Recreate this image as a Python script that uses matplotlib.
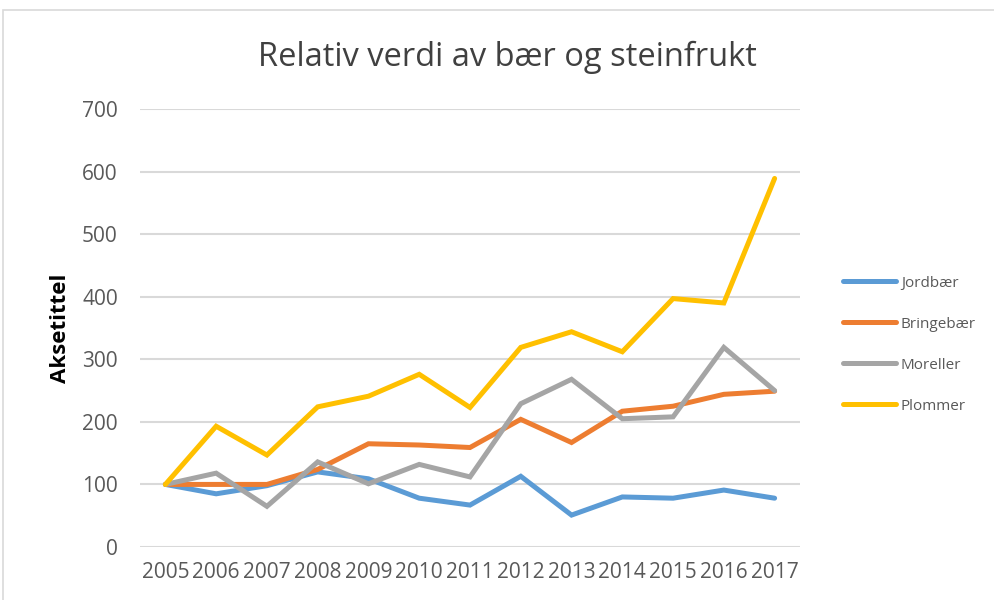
import matplotlib.pyplot as plt
from matplotlib.patches import Rectangle

years = [2005, 2006, 2007, 2008, 2009, 2010, 2011, 2012, 2013, 2014, 2015, 2016, 2017]
jordbaer = [100, 85, 98, 120, 109, 78, 67, 113, 51, 80, 78, 91, 78]
bringebaer = [100, 100, 100, 124, 165, 163, 159, 204, 167, 217, 225, 244, 249]
moreller = [100, 118, 65, 136, 101, 132, 112, 229, 268, 205, 208, 319, 250]
plommer = [100, 193, 147, 224, 241, 276, 223, 319, 344, 312, 397, 390, 589]

series = [("Jordbær", jordbaer, "#5B9BD5"),
          ("Bringebær", bringebaer, "#ED7D31"),
          ("Moreller", moreller, "#A5A5A5"),
          ("Plommer", plommer, "#FFC000")]

plt.rcParams['font.family'] = ['Open Sans', 'DejaVu Sans']

fig = plt.figure(figsize=(9.95, 6.0), dpi=100)
# chart frame
fig.patches.append(Rectangle((3 / 995, -0.1), 1.2, (1 - 10 / 600) + 0.1,
                             transform=fig.transFigure, fill=False,
                             edgecolor="#D9D9D9", linewidth=1.2))

ax = fig.add_axes([140 / 995, 1 - 547 / 600, 660 / 995, (547 - 109) / 600])
for name, vals, col in series:
    ax.plot(years, vals, color=col, linewidth=3.6, label=name,
            solid_joinstyle="miter", solid_capstyle="round")

ax.set_xlim(2004.5, 2017.5)
ax.set_ylim(0, 700)
ax.set_yticks(range(0, 701, 100))
ax.set_xticks(years)
ax.grid(axis="y", color="#D9D9D9", linewidth=1.5)
ax.set_axisbelow(True)
for s in ax.spines.values():
    s.set_visible(False)
ax.tick_params(length=0, labelsize=15, labelcolor="#595959")
ax.tick_params(axis="y", pad=16)
ax.tick_params(axis="x", pad=11)

ax.set_ylabel("Aksetittel", fontsize=16, fontweight="bold", labelpad=8)
fig.text(507 / 995, 1 - 57 / 600, "Relativ verdi av bær og steinfrukt",
         ha="center", va="center", fontsize=23.5, color="#404040")

leg = ax.legend(loc="upper left", bbox_to_anchor=(829 / 995, 1 - 262 / 600),
                bbox_transform=fig.transFigure, frameon=False, fontsize=11,
                handlelength=3.5, handletextpad=0.3, labelspacing=1.7)
for t in leg.get_texts():
    t.set_color("#595959")

fig.savefig("out.png", dpi=100)
